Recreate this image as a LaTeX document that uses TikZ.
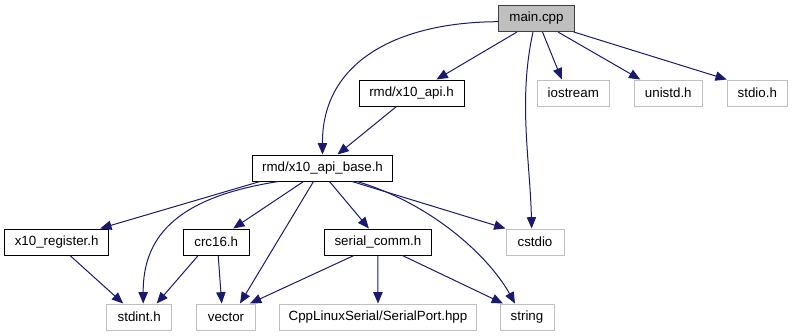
\documentclass[tikz,border=0pt]{standalone}
\usepackage{fontspec}
\setmainfont{Liberation Sans}
\usetikzlibrary{arrows.meta,calc}
\definecolor{edgeblue}{HTML}{191970}
\definecolor{extgray}{HTML}{BFBFBF}
\definecolor{rootfill}{HTML}{BFBFBF}
\definecolor{rootline}{HTML}{404040}

\begin{document}
\begin{tikzpicture}[x=0.75pt,y=-0.75pt,
  file/.style={draw, line width=0.75pt, minimum height=19.5pt, inner sep=0pt,
               font=\fontsize{10}{12}\selectfont},
  doc/.style={file, draw=black},
  ext/.style={file, draw=extgray},
  root/.style={file, draw=rootline, fill=rootfill},
  dep/.style={draw=edgeblue, line width=0.75pt,
              -{Triangle[length=8.5pt,width=7pt]}}
]
\useasboundingbox (0,0) rectangle (794,336);

% include graph nodes
\node[root, minimum width=56.6pt]  (main)     at (536.5,18.5) {main.cpp};
\node[doc,  minimum width=78.75pt] (api)      at (411.5,93)   {rmd/x10\_api.h};
\node[ext,  minimum width=54pt]    (iostream) at (573.3,93)   {iostream};
\node[ext,  minimum width=51pt]    (unistd)   at (668.3,93)   {unistd.h};
\node[ext,  minimum width=45pt]    (stdio)    at (757.3,93)   {stdio.h};
\node[doc,  minimum width=104.3pt] (base)     at (322.5,168)  {rmd/x10\_api\_base.h};
\node[doc,  minimum width=78pt]    (reg)      at (56.7,242)   {x10\_register.h};
\node[doc,  minimum width=49.3pt]  (crc)      at (216.2,242)  {crc16.h};
\node[doc,  minimum width=79.7pt]  (serial)   at (377.9,242)  {serial\_comm.h};
\node[ext,  minimum width=43.5pt]  (cstdio)   at (535,242)    {cstdio};
\node[ext,  minimum width=48.75pt] (stdint)   at (139.2,317)  {stdint.h};
\node[ext,  minimum width=44pt]    (vector)   at (226,317)    {vector};
\node[ext,  minimum width=147.4pt] (cpp)      at (378,317)    {CppLinuxSerial/SerialPort.hpp};
\node[ext,  minimum width=40.5pt]  (string)   at (527,317)    {string};

% main.cpp includes
\draw[dep] ($(main.west)+(0,3.2)$) .. controls (400,22) and (322,60) .. (base.north);
\draw[dep] ($(main.south)+(-19.5,0)$) -- ($(api.north)+(25,0)$);
\draw[dep] ($(main.south)+(-3.5,0)$) .. controls (518,100) and (530,160) .. ($(cstdio.north)+(-3.3,0)$);
\draw[dep] ($(main.south)+(6,0)$) -- ($(iostream.north)+(-11.5,0)$);
\draw[dep] ($(main.south)+(21.5,0)$) -- ($(unistd.north)+(-28,0)$);
\draw[dep] ($(main.south east)+(-1,0)$) -- (stdio.north west);

% rmd/x10_api.h includes
\draw[dep] ($(api.south)+(-15,0)$) -- ($(base.north)+(15,0)$);

% rmd/x10_api_base.h includes
\draw[dep] ($(base.south)+(-62.5,0)$) -- ($(reg.north)+(43.5,0)$);
\draw[dep] ($(base.south)+(-44,0)$) .. controls (172,198) and (143,240) .. ($(stdint.north)+(4,0)$);
\draw[dep] ($(base.south)+(-19,0)$) -- ($(crc.north)+(17,0)$);
\draw[dep] ($(base.south)+(-9,0)$) -- ($(vector.north)+(14,0)$);
\draw[dep] ($(base.south)+(7,0)$) -- ($(serial.north)+(-9,0)$);
\draw[dep] ($(base.south)+(29.5,0)$) -- (cstdio.north west);
\draw[dep] ($(base.south)+(34.5,0)$) .. controls (430,203) and (488,255) .. ($(string.north)+(-12,0)$);

% x10_register.h and crc16.h includes
\draw[dep] ($(reg.south)+(13.3,0)$) -- ($(stdint.north)+(-16,0)$);
\draw[dep] ($(crc.south)+(-18,0)$) -- ($(stdint.north)+(17.5,0)$);
\draw[dep] ($(crc.south)+(2,0)$) -- ($(vector.north)+(-4.3,0)$);

% serial_comm.h includes
\draw[dep] ($(serial.south)+(-24,0)$) -- ($(vector.north)+(24,0)$);
\draw[dep] (serial.south) -- (cpp.north);
\draw[dep] ($(serial.south)+(24.5,0)$) -- ($(string.north)+(-24,0)$);
\end{tikzpicture}
\end{document}
